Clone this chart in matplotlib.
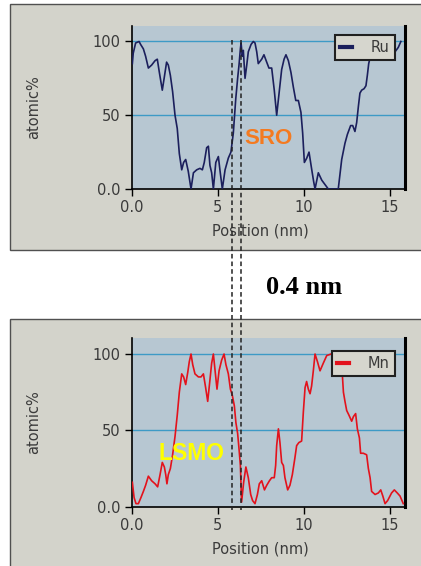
import numpy as np
import matplotlib
matplotlib.use("Agg")
import matplotlib.pyplot as plt
from matplotlib.patches import Rectangle
from matplotlib.lines import Line2D
from matplotlib.transforms import blended_transform_factory

# Ru profile (top panel)
ru_pos = [0.05, 0.1, 0.24, 0.44, 0.53, 0.69, 0.82, 0.98, 1.17, 1.37, 1.5, 1.62, 1.79, 1.91,
          2.04, 2.14, 2.26, 2.39, 2.53, 2.66, 2.78, 2.92, 3.03, 3.15, 3.3, 3.46, 3.6, 3.79,
          3.98, 4.12, 4.23, 4.37, 4.47, 4.56, 4.66, 4.76, 4.9, 5.05, 5.15, 5.28, 5.44, 5.63,
          5.78, 5.92, 6.06, 6.17, 6.25, 6.33, 6.37, 6.44, 6.5, 6.6, 6.7, 6.79, 6.95, 7.08,
          7.18, 7.28, 7.37, 7.57, 7.7, 7.86, 7.99, 8.15, 8.3, 8.44, 8.58, 8.73, 8.87, 8.98,
          9.12, 9.27, 9.41, 9.55, 9.7, 9.85, 9.95, 10.05, 10.19, 10.32, 10.48, 10.59, 10.67,
          10.86, 11.06, 11.25, 11.44, 11.73, 12.02, 12.22, 12.41, 12.55, 12.74, 12.86, 12.99,
          13.09, 13.19, 13.28, 13.38, 13.52, 13.63, 13.71, 13.79, 13.87, 14.1, 14.5, 14.9,
          15.32, 15.51, 15.66]
ru_val = [85, 92, 99, 100, 98, 95, 90, 82, 84, 87, 88, 79, 67, 76,
          86, 84, 77, 66, 50, 41, 24, 13, 18, 20, 12, 0, 11, 13,
          14, 13, 18, 28, 29, 16, 11, 0, 18, 22, 12, 0, 13, 21,
          25, 38, 61, 75, 84, 95, 99, 90, 94, 75, 84, 93, 98, 100,
          99, 93, 85, 88, 91, 86, 82, 82, 67, 50, 65, 81, 88, 91,
          87, 79, 69, 60, 60, 52, 38, 18, 21, 25, 13, 5, 0,
          11, 6, 3, 0, 0, 0, 20, 31, 37, 43, 43, 39,
          45, 56, 65, 67, 68, 70, 77, 85, 89, 92, 90, 94,
          93, 96, 100]

# Mn profile (bottom panel)
mn_pos = [0.05, 0.15, 0.26, 0.4, 0.55, 0.69, 0.82, 0.98, 1.17, 1.37, 1.52, 1.66, 1.79, 1.91,
          1.99, 2.06, 2.14, 2.26, 2.39, 2.53, 2.66, 2.78, 2.92, 3.03, 3.15, 3.27, 3.36, 3.46,
          3.56, 3.69, 3.89, 4.04, 4.18, 4.31, 4.43, 4.56, 4.66, 4.76, 4.86, 4.97, 5.09, 5.24,
          5.38, 5.49, 5.63, 5.75, 5.86, 5.98, 6.07, 6.17, 6.25, 6.33, 6.4, 6.52, 6.65, 6.79,
          6.93, 7.04, 7.18, 7.32, 7.43, 7.57, 7.73, 7.86, 8.02, 8.15, 8.3, 8.38, 8.44, 8.54,
          8.63, 8.73, 8.83, 8.92, 9.08, 9.21, 9.35, 9.5, 9.6, 9.73, 9.89, 9.99, 10.09, 10.18,
          10.28, 10.38, 10.47, 10.57, 10.67, 10.81, 10.96, 11.15, 11.35, 11.6, 11.9, 12.1,
          12.26, 12.32, 12.41, 12.51, 12.64, 12.8, 12.9, 13.03, 13.13, 13.25, 13.32, 13.48,
          13.67, 13.77, 13.87, 13.96, 14.16, 14.35, 14.49, 14.61, 14.74, 14.89, 15.12, 15.28,
          15.45, 15.61, 15.8]
mn_val = [16, 6, 2, 2, 6, 10, 14, 20, 17, 15, 13, 21, 29, 26,
          21, 15, 21, 25, 34, 46, 60, 75, 87, 85, 80, 88, 95, 100,
          93, 87, 85, 85, 87, 78, 69, 83, 94, 100, 89, 77, 89, 96,
          100, 93, 87, 77, 73, 66, 55, 48, 38, 27, 3, 16, 26, 19,
          8, 4, 2, 8, 15, 17, 11, 14, 17, 19, 19, 27, 40, 51,
          42, 29, 27, 19, 11, 14, 21, 32, 40, 42, 43, 62, 78, 82,
          77, 74, 79, 89, 100, 95, 89, 94, 99, 100, 97, 92,
          86, 75, 69, 63, 60, 56, 59, 61, 51, 45, 35, 35,
          34, 25, 19, 10, 8, 9, 11, 7, 2, 4, 9, 11,
          9, 7, 2]

x_ticks = [0, 5, 10, 15]
x_ticklabels = ["0.0", "5", "10", "15"]
y_ticks = [0, 50, 100]
y_ticklabels = ["0.0", "50", "100"]
boundary_nm = [5.83, 6.37]  # dashed interface markers

W, H = 421, 566
fig = plt.figure(figsize=(W / 100, H / 100), dpi=100)
fig.patch.set_facecolor("white")

panel_bg = "#d3d3cb"
face_bg = "#b7c7d2"
grid_col = "#3d9ac6"
txt_col = "#3a3a3a"


def px_rect(x0, y0, x1, y1):
    # pixel box (top-left origin) -> figure fraction [l, b, w, h]
    return [x0 / W, 1 - y1 / H, (x1 - x0) / W, (y1 - y0) / H]


# grey panels behind each chart
for (y0, y1) in [(4, 250), (319, 570)]:
    l, b, w, h = px_rect(10, y0, 422, y1)
    fig.patches.append(Rectangle((l, b), w, h, transform=fig.transFigure,
                                 facecolor=panel_bg, edgecolor="#505050", lw=1.0, zorder=-5))


def make_axes(box, xs, ys, color, label, leg_top):
    ax = fig.add_axes(px_rect(*box))
    ax.set_zorder(2)
    ax.set_facecolor(face_bg)
    ax.plot(xs, ys, color=color, lw=1.2, label=label, zorder=3)
    ax.set_xlim(0, 15.9)
    ax.set_ylim(0, 110.5)
    for v in (50, 100):
        ax.axhline(v, color=grid_col, lw=1.0, zorder=1)
    ax.set_xticks(x_ticks)
    ax.set_xticklabels(x_ticklabels)
    ax.set_yticks(y_ticks)
    ax.set_yticklabels(y_ticklabels)
    ax.tick_params(direction="out", length=5, width=1, colors="black",
                   labelcolor=txt_col, labelsize=10.5, pad=3)
    ax.spines["top"].set_visible(False)
    ax.spines["right"].set_linewidth(2.2)
    for s in ("left", "bottom"):
        ax.spines[s].set_linewidth(1.2)
    ax.set_xlabel("Position (nm)", fontsize=10.5, color=txt_col)
    ax.set_ylabel("atomic%", fontsize=10.5, color=txt_col)
    hpx = box[3] - box[1]
    wpx = box[2] - box[0]
    ax.xaxis.set_label_coords((260 - box[0]) / wpx, -42 / hpx)
    ax.xaxis.label.set_va("center")
    ax.yaxis.set_label_coords((34 - box[0]) / wpx, 0.5)
    ax.yaxis.label.set_va("center")

    # legend box pinned to its pixel spot in the panel
    leg = ax.legend(loc="upper right", bbox_to_anchor=(395 / W, 1 - leg_top / H),
                    bbox_transform=fig.transFigure, borderaxespad=0,
                    frameon=True, fancybox=False,
                    handlelength=0.8, handletextpad=1.3, borderpad=0.35,
                    fontsize=10.5, labelcolor=txt_col)
    leg.get_frame().set_facecolor("#d6d6ce")
    leg.get_frame().set_edgecolor("#202020")
    leg.get_frame().set_linewidth(1.5)
    leg.get_frame().set_alpha(1)
    for h in leg.legend_handles:
        h.set_linewidth(3)
    return ax


ax1 = make_axes((131.5, 26, 405, 189), ru_pos, ru_val, "#1b1f5c", "Ru", 35)
ax2 = make_axes((131.5, 338, 405, 506.7), mn_pos, mn_val, "#e3121c", "Mn", 351)

fig.text(244 / W, 1 - 139 / H, "SRO", family="Liberation Sans", weight="bold",
         fontsize=16, color="#f47a20", va="center", ha="left", zorder=5)
fig.text(158 / W, 1 - 454 / H, "LSMO", family="Liberation Sans", weight="bold",
         fontsize=16.5, color="#ffff00", va="center", ha="left", zorder=5)
fig.text(266 / W, 1 - 288 / H, "0.4 nm", family="Liberation Serif", weight="bold",
         fontsize=19, color="black", va="center", ha="left", zorder=5)

# dashed interface lines running through both panels
trans = blended_transform_factory(ax1.transData, fig.transFigure)
for xb in boundary_nm:
    fig.add_artist(Line2D([xb, xb], [1 - 40 / H, 1 - 510 / H], transform=trans,
                          color="#222222", lw=1.1, ls=(0, (3, 2)), zorder=10))

fig.savefig("out.png", dpi=100, facecolor="white")
